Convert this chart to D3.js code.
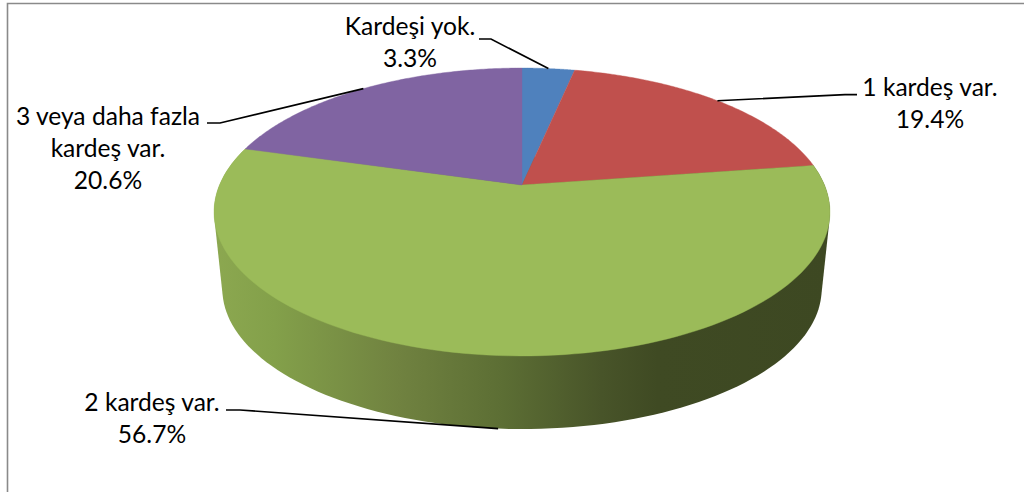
<!DOCTYPE html>
<html>
<head>
<meta charset="utf-8">
<script src="https://cdnjs.cloudflare.com/ajax/libs/d3/7.9.0/d3.min.js"></script>
<style>
html,body{margin:0;padding:0;background:#fff;overflow:hidden}
svg{display:block}
text{font-family:Lato,"Open Sans",sans-serif;font-size:24.6px;fill:#000;text-anchor:middle}
</style>
</head>
<body>
<svg id="c" width="1024" height="492"></svg>
<script>
// Data
const categories = ["Kardeşi yok.", "1 kardeş var.", "2 kardeş var.", "3 veya daha fazla\nkardeş var."];
const values = [3.3, 19.4, 56.7, 20.6];
const colors = ["#4F81BD", "#C0504D", "#9BBB59", "#8064A2"];
const valueLabels = values.map(v => v.toFixed(1) + "%");

// Layout: label block centre and first baseline, and leader elbow/start
const labelLayout = [
  {x: 410, y: 35, elbow: [491, 39], end: [479, 39], rim: "top"},
  {x: 930, y: 95.5, elbow: [845, 94.6], end: [857, 94.6], rim: "top"},
  {x: 152, y: 410.5, elbow: [240, 410], end: [226, 410], rim: "bottom"},
  {x: 108, y: 124.5, elbow: [220, 123], end: [207, 123], rim: "top"}
];
const lineH = 32;

// 3-D projection of the pie's disc
const cx = 522, apexY = 185, A = 302.5, B = 138.9, k = -0.1875;
const lowerScale = 0.973, lowerY = 262.7;
function upperRim(theta) {
  const u = Math.sin(theta), v = -Math.cos(theta), w = 1 + k * v;
  return [cx + A * u / w, apexY + B * v / w];
}
function lowerRim(theta) {
  const p = upperRim(theta);
  return [cx + lowerScale * (p[0] - cx), lowerY + lowerScale * (p[1] - apexY)];
}
const line = d3.line();
const arcs = d3.pie().sort(null).value(d => d)(values);
const samples = (a, b) => d3.range(0, 121).map(i => a + (b - a) * i / 120);

const svg = d3.select("#c");
svg.append("rect").attr("width", 1024).attr("height", 492).attr("fill", "#fff");
svg.append("path").attr("d", "M7.5,492V3.5H1024").attr("fill", "none")
  .attr("stroke", "#8a8a8a").attr("stroke-width", 1.6);

// Side gradient of the large slice
const grad = svg.append("defs").append("linearGradient").attr("id", "side")
  .attr("gradientUnits", "userSpaceOnUse").attr("x1", 213).attr("x2", 830).attr("y1", 0).attr("y2", 0);
[[0, "#8CA850"], [0.1, "#83A04A"], [0.3, "#708240"], [0.47, "#5C6E34"], [0.63, "#485429"], [0.72, "#3F4A23"], [1, "#3D4822"]]
  .forEach(s => grad.append("stop").attr("offset", s[0]).attr("stop-color", s[1]));

// Side: convex hull of both rims of the large slice (its upper part lies under the top faces)
const big = arcs[2];
const bigS = samples(big.startAngle, big.endAngle);
svg.append("path")
  .attr("d", line(d3.polygonHull(bigS.map(upperRim).concat(bigS.map(lowerRim)))) + "Z")
  .attr("fill", "url(#side)");

// Top faces
svg.append("g").selectAll("path").data(arcs).join("path")
  .attr("d", d => line([[cx, apexY]].concat(samples(d.startAngle, d.endAngle).map(upperRim))) + "Z")
  .attr("fill", (d, i) => colors[i])
  .attr("stroke", (d, i) => colors[i]).attr("stroke-width", 0.4);

// Leaders
svg.append("g").selectAll("path").data(arcs).join("path")
  .attr("d", (d, i) => {
    const mid = (d.startAngle + d.endAngle) / 2, l = labelLayout[i];
    const anchor = l.rim === "top" ? upperRim(mid) : lowerRim(mid);
    return line([anchor, l.elbow, l.end]);
  })
  .attr("fill", "none").attr("stroke", "#000").attr("stroke-width", 1.6);

// Labels
categories.forEach((c, i) => {
  const l = labelLayout[i];
  const rows = c.split("\n").concat(valueLabels[i]);
  const t = svg.append("text");
  rows.forEach((r, j) => t.append("tspan").attr("x", l.x).attr("y", l.y + j * lineH).text(r));
});
</script>
</body>
</html>
